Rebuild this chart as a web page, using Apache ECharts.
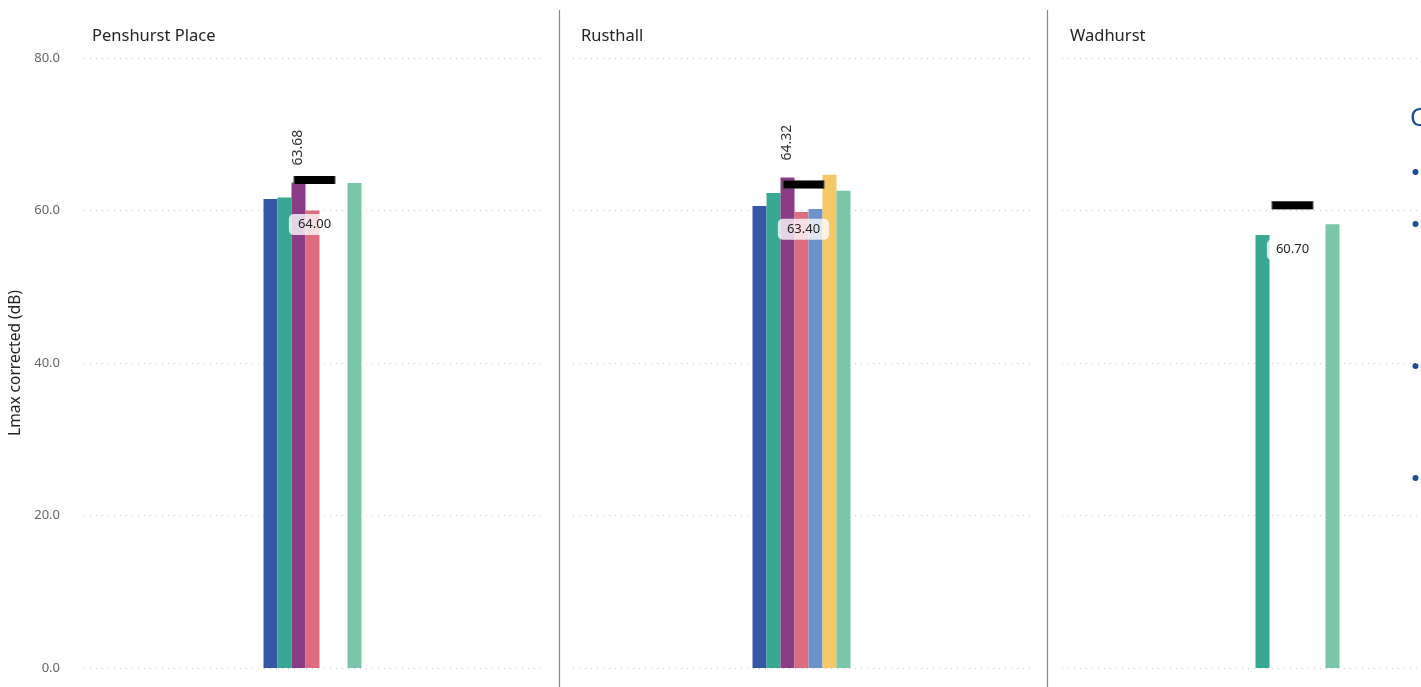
<!DOCTYPE html>
<html>
<head>
<meta charset="utf-8">
<script src="https://cdn.jsdelivr.net/npm/echarts@6/dist/echarts.min.js"></script>
<style>html,body{margin:0;padding:0;background:#fff;}#c{width:1421px;height:687px;}</style>
</head>
<body>
<div id="c"></div>
<script>
var categories = ['Penshurst Place', 'Rusthall', 'Wadhurst'];
var seriesNames = ['Series 1', 'Series 2', 'Series 3', 'Series 4', 'Series 5', 'Series 6', 'Series 7'];
var s1 = [61.5, 60.6, null];
var s2 = [61.7, 62.3, 56.8];
var s3 = [63.68, 64.32, null];
var s4 = [60.0, 59.8, null];
var s5 = [null, 60.2, null];
var s6 = [null, 64.7, null];
var s7 = [63.6, 62.6, 58.2];
var targets = [64.0, 63.4, 60.7];
var yTicks = [0, 20, 40, 60, 80];

var seriesData = [s1, s2, s3, s4, s5, s6, s7];
var colors = ['#3557A6', '#39A893', '#8A3C87', '#DE6C80', '#6C93C9', '#F4C767', '#7AC6A8'];
// panel line areas (for dotted grid lines) and bar areas (centred on the panel centre)
var panelLefts = [84, 573, 1062];
var panelWidth = 457;

var grids = [], xAxes = [], yAxes = [], series = [], titles = [];
function yAxisDef(gi, showLabel, showSplit) {
  return {
    type: 'value', gridIndex: gi, min: yTicks[0], max: yTicks[yTicks.length - 1], interval: 20,
    axisLine: {show: false}, axisTick: {show: false},
    axisLabel: {show: showLabel, color: '#666', fontSize: 13, fontFamily: 'Noto Sans', margin: 24,
      formatter: function (v) { return v.toFixed(1); }},
    splitLine: {show: showSplit, lineStyle: {type: [1, 5], color: '#c4c4c4', width: 1}},
    name: showLabel ? 'Lmax corrected (dB)' : '', nameLocation: 'middle', nameGap: 60, nameRotate: 90,
    nameTextStyle: {color: '#252423', fontSize: 15.5, fontFamily: 'Noto Sans'}
  };
}
categories.forEach(function (cat, i) {
  var center = panelLefts[i] + panelWidth / 2;
  var half = Math.min(panelWidth / 2, 1421 - center);
  // bar grid
  grids.push({left: center - half, width: half * 2, top: 58, height: 610, containLabel: false});
  xAxes.push({type: 'category', gridIndex: i, data: [cat], show: false});
  yAxes.push(yAxisDef(i, i === 0, half * 2 >= panelWidth - 1));
  seriesData.forEach(function (arr, k) {
    series.push({
      type: 'bar', name: seriesNames[k], xAxisIndex: i, yAxisIndex: i,
      data: [arr[i]], barWidth: 14, barGap: '0%',
      itemStyle: {color: colors[k]},
      label: k === 2 ? {show: true, position: 'top', rotate: 90, align: 'left', verticalAlign: 'middle', distance: 17,
        color: '#333', fontSize: 14, fontFamily: 'Noto Sans',
        formatter: function (p) { return p.value.toFixed(2); }} : {show: false},
      z: 2
    });
  });
  series.push({
    type: 'scatter', name: 'Target', xAxisIndex: i, yAxisIndex: i,
    data: [targets[i]], symbol: 'rect', symbolSize: [41, 8], symbolOffset: [2, 0],
    itemStyle: {color: '#000', opacity: 1, borderColor: '#555', borderWidth: 0.5},
    label: {show: true, position: 'bottom', distance: 30, color: '#252423', fontSize: 13, fontFamily: 'Noto Sans',
      backgroundColor: 'rgba(255,255,255,0.78)', borderRadius: 5, padding: [4, 9],
      formatter: function (p) { return p.value.toFixed(2); }},
    z: 5
  });
  titles.push({text: cat, left: panelLefts[i] + 3, top: 23,
    textStyle: {color: '#252423', fontSize: 16.5, fontWeight: 'normal', fontFamily: 'Noto Sans'}});
});
// extra grid for the cut-off third panel's dotted lines
grids.push({left: panelLefts[2], right: 0, top: 58, height: 610, containLabel: false});
xAxes.push({type: 'category', gridIndex: 3, data: [''], show: false});
yAxes.push(yAxisDef(3, false, true));

var graphics = [
  {type: 'line', shape: {x1: 559.5, y1: 10, x2: 559.5, y2: 687}, style: {stroke: '#8a8a8a', lineWidth: 1.2}},
  {type: 'line', shape: {x1: 1047.5, y1: 10, x2: 1047.5, y2: 687}, style: {stroke: '#8a8a8a', lineWidth: 1.2}},
  {type: 'text', left: 1410, top: 106, style: {text: 'C', fill: '#1B4E96', fontSize: 25, fontFamily: 'Noto Sans'}}
];
[172, 224, 366, 478].forEach(function (y) {
  graphics.push({type: 'circle', shape: {cx: 1415.5, cy: y, r: 3}, style: {fill: '#1B4E96'}});
});

var chart = echarts.init(document.getElementById('c'));
chart.setOption({
  animation: false,
  title: titles,
  grid: grids,
  xAxis: xAxes,
  yAxis: yAxes,
  series: series,
  graphic: graphics
});
</script>
</body>
</html>
